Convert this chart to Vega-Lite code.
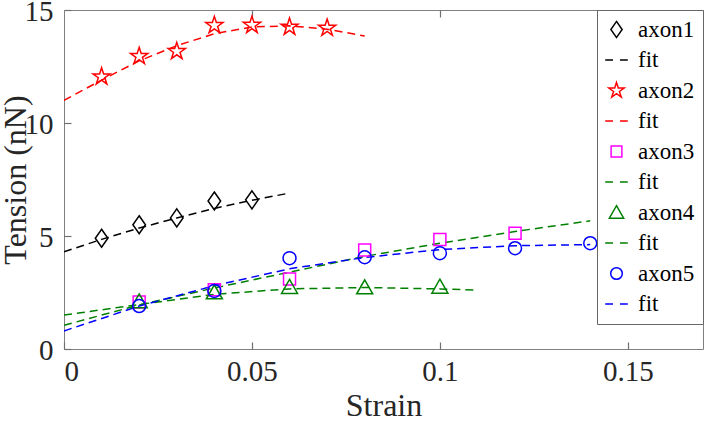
{
  "$schema": "https://vega.github.io/schema/vega-lite/v6.json",
  "width": 639,
  "height": 339,
  "autosize": "none",
  "padding": {"left": 64, "top": 10, "right": 5, "bottom": 72},
  "config": {
    "font": "Liberation Serif",
    "view": {"stroke": "#808080", "strokeWidth": 1},
    "legend": {"labelFont": "Liberation Serif"},
    "axis": {"labelFont": "Liberation Serif", "titleFont": "Liberation Serif", "ticks": true}
  },
  "datasets": {
    "pts": [
      {"series": "axon1", "strain": 0.01, "tension": 4.9},
      {"series": "axon1", "strain": 0.02, "tension": 5.5},
      {"series": "axon1", "strain": 0.03, "tension": 5.8},
      {"series": "axon1", "strain": 0.04, "tension": 6.55},
      {"series": "axon1", "strain": 0.05, "tension": 6.6},
      {"series": "axon2", "strain": 0.01, "tension": 12.05},
      {"series": "axon2", "strain": 0.02, "tension": 12.95},
      {"series": "axon2", "strain": 0.03, "tension": 13.17},
      {"series": "axon2", "strain": 0.04, "tension": 14.32},
      {"series": "axon2", "strain": 0.05, "tension": 14.33},
      {"series": "axon2", "strain": 0.06, "tension": 14.25},
      {"series": "axon2", "strain": 0.07, "tension": 14.2},
      {"series": "axon3", "strain": 0.02, "tension": 2.08},
      {"series": "axon3", "strain": 0.04, "tension": 2.62},
      {"series": "axon3", "strain": 0.06, "tension": 3.1},
      {"series": "axon3", "strain": 0.08, "tension": 4.38},
      {"series": "axon3", "strain": 0.1, "tension": 4.85},
      {"series": "axon3", "strain": 0.12, "tension": 5.12},
      {"series": "axon4", "strain": 0.02, "tension": 2.1},
      {"series": "axon4", "strain": 0.04, "tension": 2.5},
      {"series": "axon4", "strain": 0.06, "tension": 2.74},
      {"series": "axon4", "strain": 0.08, "tension": 2.72},
      {"series": "axon4", "strain": 0.1, "tension": 2.75},
      {"series": "axon5", "strain": 0.02, "tension": 1.9},
      {"series": "axon5", "strain": 0.04, "tension": 2.57},
      {"series": "axon5", "strain": 0.06, "tension": 4.02},
      {"series": "axon5", "strain": 0.08, "tension": 4.06},
      {"series": "axon5", "strain": 0.1, "tension": 4.24},
      {"series": "axon5", "strain": 0.12, "tension": 4.46},
      {"series": "axon5", "strain": 0.14, "tension": 4.68}
    ],
    "fits": [
      {"series": "fit1", "strain": 0.0, "tension": 4.3},
      {"series": "fit1", "strain": 0.01, "tension": 4.85},
      {"series": "fit1", "strain": 0.02, "tension": 5.35},
      {"series": "fit1", "strain": 0.03, "tension": 5.8},
      {"series": "fit1", "strain": 0.04, "tension": 6.22},
      {"series": "fit1", "strain": 0.05, "tension": 6.58},
      {"series": "fit1", "strain": 0.06, "tension": 6.9},
      {"series": "fit2", "strain": 0.0, "tension": 11.0},
      {"series": "fit2", "strain": 0.01, "tension": 11.9},
      {"series": "fit2", "strain": 0.02, "tension": 12.75},
      {"series": "fit2", "strain": 0.03, "tension": 13.42},
      {"series": "fit2", "strain": 0.04, "tension": 13.95},
      {"series": "fit2", "strain": 0.05, "tension": 14.25},
      {"series": "fit2", "strain": 0.06, "tension": 14.3},
      {"series": "fit2", "strain": 0.07, "tension": 14.15},
      {"series": "fit2", "strain": 0.08, "tension": 13.85},
      {"series": "fit3", "strain": 0.0, "tension": 1.05},
      {"series": "fit3", "strain": 0.02, "tension": 1.95},
      {"series": "fit3", "strain": 0.04, "tension": 2.7},
      {"series": "fit3", "strain": 0.06, "tension": 3.4},
      {"series": "fit3", "strain": 0.08, "tension": 4.1},
      {"series": "fit3", "strain": 0.1, "tension": 4.68},
      {"series": "fit3", "strain": 0.12, "tension": 5.2},
      {"series": "fit3", "strain": 0.14, "tension": 5.67},
      {"series": "fit4", "strain": 0.0, "tension": 1.5},
      {"series": "fit4", "strain": 0.02, "tension": 1.97},
      {"series": "fit4", "strain": 0.04, "tension": 2.42},
      {"series": "fit4", "strain": 0.06, "tension": 2.66},
      {"series": "fit4", "strain": 0.08, "tension": 2.72},
      {"series": "fit4", "strain": 0.1, "tension": 2.66},
      {"series": "fit4", "strain": 0.11, "tension": 2.6},
      {"series": "fit5", "strain": 0.0, "tension": 0.8},
      {"series": "fit5", "strain": 0.02, "tension": 1.9},
      {"series": "fit5", "strain": 0.04, "tension": 2.8},
      {"series": "fit5", "strain": 0.06, "tension": 3.55},
      {"series": "fit5", "strain": 0.08, "tension": 4.05},
      {"series": "fit5", "strain": 0.1, "tension": 4.4},
      {"series": "fit5", "strain": 0.12, "tension": 4.57},
      {"series": "fit5", "strain": 0.14, "tension": 4.62}
    ]
  },
  "layer": [
    {
      "data": {"name": "fits"},
      "mark": {"type": "line", "strokeDash": [8, 5], "strokeWidth": 1.5, "clip": true},
      "encoding": {
        "x": {
          "field": "strain", "type": "quantitative",
          "scale": {"domain": [0, 0.17], "nice": false, "zero": false},
          "axis": {"orient": "top", "labels": false, "title": null, "domain": false, "grid": false, "ticks": true,
                   "values": [0.05, 0.1, 0.15], "tickSize": 7, "offset": -7, "tickColor": "#707070", "tickWidth": 1.2}
        },
        "y": {
          "field": "tension", "type": "quantitative",
          "scale": {"domain": [0, 15], "nice": false},
          "axis": {"title": "Tension (nN)", "values": [0, 5, 10, 15], "grid": false, "domain": false, "ticks": true,
                   "tickSize": 7, "offset": -7, "tickColor": "#707070", "tickWidth": 1.2, "labelFontSize": 29, "labelColor": "#262626",
                   "labelPadding": 11, "labelOffset": 1.5, "titleFontSize": 32, "titleColor": "#262626", "titleFontWeight": "normal",
                   "titlePadding": -8}
        },
        "color": {"field": "series", "type": "nominal"}
      }
    },
    {
      "data": {"name": "pts"},
      "mark": {"type": "point", "filled": false, "strokeWidth": 1.5, "opacity": 1, "size": 324},
      "encoding": {
        "x": {
          "field": "strain", "type": "quantitative",
          "scale": {"domain": [0, 0.17], "nice": false, "zero": false},
          "axis": {"title": "Strain", "values": [0, 0.05, 0.1, 0.15], "format": "~g", "grid": false, "domain": false, "ticks": true,
                   "tickSize": 7, "offset": -7, "tickColor": "#707070", "tickWidth": 1.2, "labelFontSize": 29, "labelColor": "#262626",
                   "labelPadding": 8, "titleFontSize": 32, "titleColor": "#262626", "titleFontWeight": "normal",
                   "titlePadding": 4}
        },
        "y": {
          "field": "tension", "type": "quantitative",
          "scale": {"domain": [0, 15], "nice": false},
          "axis": {"title": "Tension (nN)", "values": [0, 5, 10, 15], "grid": false, "domain": false, "ticks": true,
                   "tickSize": 7, "offset": -7, "tickColor": "#707070", "tickWidth": 1.2, "labelFontSize": 29, "labelColor": "#262626",
                   "labelPadding": 11, "labelOffset": 1.5, "titleFontSize": 32, "titleColor": "#262626", "titleFontWeight": "normal",
                   "titlePadding": -8}
        },
        "color": {
          "field": "series", "type": "nominal",
          "scale": {
            "domain": ["axon1", "fit1", "axon2", "fit2", "axon3", "fit3", "axon4", "fit4", "axon5", "fit5"],
            "range": ["#000000", "#000000", "#ff0000", "#ff0000", "#ff00ff", "#008000", "#008000", "#008000", "#0000ff", "#0000ff"]
          },
          "legend": {
            "orient": "top-right", "offset": 0, "title": null,
            "labelFont": "Liberation Serif", "labelFontSize": 23, "labelColor": "#000000",
            "strokeColor": "#666666", "fillColor": "#ffffff", "padding": 8, "rowPadding": 6.5,
            "labelOffset": 10, "symbolStrokeWidth": 1.5, "symbolSize": 260,
            "labelExpr": "indexof(datum.label, 'fit') == 0 ? 'fit' : datum.label",
            "encode": {
              "symbols": {"update": {"fill": {"value": "transparent"}, "size": {"value": 260}, "strokeDash": {"value": []}}},
              "labels": {"update": {"font": {"value": "Liberation Serif"}, "fontSize": {"value": 23}}}
            }
          }
        },
        "shape": {
          "field": "series", "type": "nominal",
          "scale": {
            "domain": ["axon1", "fit1", "axon2", "fit2", "axon3", "fit3", "axon4", "fit4", "axon5", "fit5"],
            "range": [
              "M0,-1L0.7,0L0,1L-0.7,0Z",
              "M-1.4,0H-0.43M0.43,0H1.4",
              "M0,-1L0.2245,-0.309L0.951,-0.309L0.363,0.118L0.588,0.809L0,0.382L-0.588,0.809L-0.363,0.118L-0.951,-0.309L-0.2245,-0.309Z",
              "M-1.4,0H-0.43M0.43,0H1.4",
              "M-0.667,-0.667H0.667V0.667H-0.667Z",
              "M-1.4,0H-0.43M0.43,0H1.4",
              "M0,-0.85L0.89,0.7L-0.89,0.7Z",
              "M-1.4,0H-0.43M0.43,0H1.4",
              "M0.72,0A0.72,0.72,0,1,1,-0.72,0A0.72,0.72,0,1,1,0.72,0Z",
              "M-1.4,0H-0.43M0.43,0H1.4"
            ]
          },
          "legend": {
            "orient": "top-right", "offset": 0, "title": null,
            "labelFont": "Liberation Serif", "labelFontSize": 23, "labelColor": "#000000",
            "strokeColor": "#666666", "fillColor": "#ffffff", "padding": 8, "rowPadding": 6.5,
            "labelOffset": 10, "symbolStrokeWidth": 1.5, "symbolSize": 260,
            "labelExpr": "indexof(datum.label, 'fit') == 0 ? 'fit' : datum.label",
            "encode": {
              "symbols": {"update": {"fill": {"value": "transparent"}, "size": {"value": 260}, "strokeDash": {"value": []}}},
              "labels": {"update": {"font": {"value": "Liberation Serif"}, "fontSize": {"value": 23}}}
            }
          }
        }
      }
    }
  ],
  "resolve": {"scale": {"x": "independent"}, "axis": {"x": "independent"}}
}
